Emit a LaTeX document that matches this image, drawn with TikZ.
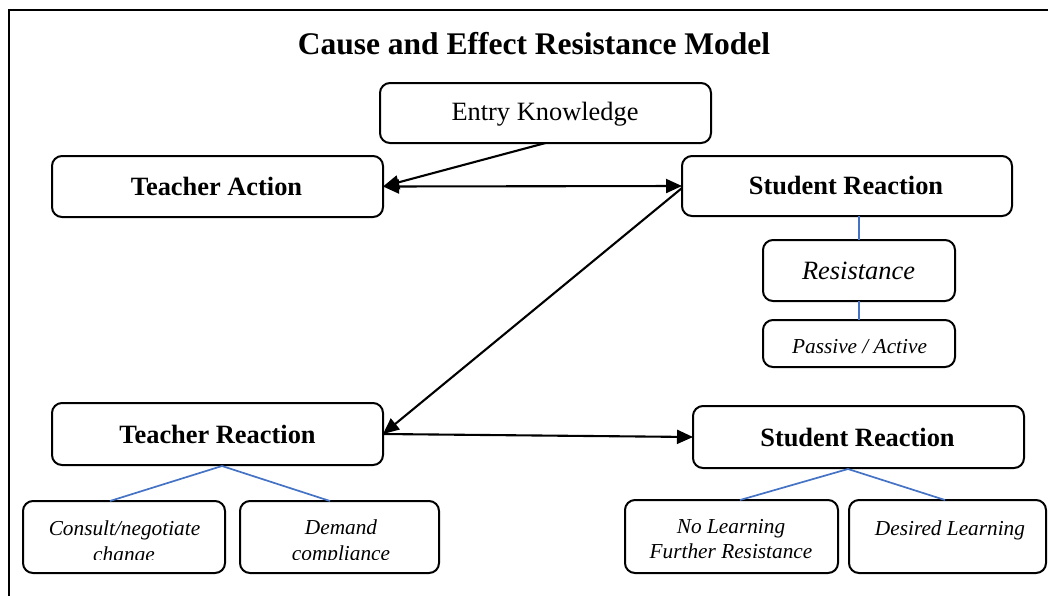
\documentclass[tikz,border=0pt]{standalone}
\usepackage{fontspec}
\setmainfont{Liberation Serif}
\usetikzlibrary{arrows.meta}
\definecolor{linkblue}{RGB}{68,114,196}
\tikzset{
  frame/.style={line width=2.8pt, line cap=rect},
  box/.style={draw, line width=2pt, rounded corners=10pt, inner sep=0pt, outer sep=0pt},
  tip/.style={Triangle[length=16pt,width=14pt]},
  flow/.style={line width=2.1pt, -{Triangle[length=16pt,width=14pt]}},
  twoway/.style={line width=2.1pt, {Triangle[length=16pt,width=14pt]}-{Triangle[length=16pt,width=14pt]}},
  link/.style={draw=linkblue, line width=1.7pt},
  titletext/.style={anchor=base, inner sep=0pt, font=\fontsize{31.5}{36}\selectfont\bfseries},
  headtext/.style={anchor=base, inner sep=0pt, font=\fontsize{26.4}{30}\selectfont\bfseries},
  plaintext/.style={anchor=base, inner sep=0pt, font=\fontsize{26.4}{30}\selectfont},
  ittext/.style={anchor=base, inner sep=0pt, font=\fontsize{26.4}{30}\selectfont\itshape},
  smalltext/.style={anchor=base, inner sep=0pt, font=\fontsize{21.3}{25}\selectfont\itshape},
}
\begin{document}
\begin{tikzpicture}[x=1pt, y=-1pt]
  \useasboundingbox (0,0) rectangle (1048,595);

  % outer frame (open to the right and bottom)
  \draw[frame] (9,620) -- (9,10) -- (1070,10);

  % title
  \node[titletext] (title) at (534,54) {Cause and Effect Resistance Model};

  % boxes
  \node[box, minimum width=331pt, minimum height=60pt] (entry) at (545.5,113) {};
  \node[box, minimum width=331pt, minimum height=61pt] (ta)    at (217.5,186.5) {};
  \node[box, minimum width=330pt, minimum height=60pt] (sr1)   at (847,186) {};
  \node[box, minimum width=192pt, minimum height=61pt] (res)   at (859,270.5) {};
  \node[box, minimum width=192pt, minimum height=47pt] (pa)    at (859,343.5) {};
  \node[box, minimum width=331pt, minimum height=62pt] (tr)    at (217.5,434) {};
  \node[box, minimum width=331pt, minimum height=62pt] (sr2)   at (858.5,437) {};
  \node[box, minimum width=202pt, minimum height=72pt] (cons)  at (124,537) {};
  \node[box, minimum width=199pt, minimum height=72pt] (dem)   at (339.5,537) {};
  \node[box, minimum width=213pt, minimum height=73pt] (nol)   at (731.5,536.5) {};
  \node[box, minimum width=197pt, minimum height=73pt] (des)   at (947.5,536.5) {};

  % box texts
  \node[plaintext] (entry-t) at (545,120) {Entry Knowledge};
  \node[headtext]  (ta-t)    at (216.5,195) {Teacher Action};
  \node[headtext]  (sr1-t)   at (846,194) {Student Reaction};
  \node[ittext]    (res-t)   at (858.5,279) {Resistance};
  \node[smalltext] (pa-t)    at (859.5,353) {Passive / Active};
  \node[headtext]  (tr-t)    at (217.5,443) {Teacher Reaction};
  \node[headtext]  (sr2-t)   at (857.5,446) {Student Reaction};
  \node[smalltext] (nol-t1)  at (731,533) {No Learning};
  \node[smalltext] (nol-t2)  at (731,558) {Further Resistance};
  \node[smalltext] (des-t)   at (950,535) {Desired Learning};
  \begin{scope}
    \clip (20,498) rectangle (445,559);
    \node[smalltext] (cons-t1) at (124.5,535) {Consult/negotiate};
    \node[smalltext] (cons-t2) at (124,561) {change};
    \node[smalltext] (dem-t1)  at (341,534) {Demand};
    \node[smalltext] (dem-t2)  at (341,560) {compliance};
  \end{scope}

  % arrows
  \draw[flow]   (entry.south) -- (ta.east);
  \draw[twoway] (ta.east) -- (sr1.west);
  \draw[flow]   ([yshift=-2pt]sr1.west) -- (tr.east);
  \draw[flow]   (tr.east) -- (sr2.west);

  % branch points of the blue links
  \coordinate (tr-b)   at (222,466);
  \coordinate (cons-b) at (110,501);
  \coordinate (dem-b)  at (330,501);
  \coordinate (sr2-b)  at (848,469);
  \coordinate (nol-b)  at (740,500);
  \coordinate (des-b)  at (945,500);

  % blue links
  \draw[link] (sr1.south -| res.north) -- (res.north);
  \draw[link] (res.south) -- (pa.north);
  \draw[link] (cons-b) -- (tr-b) -- (dem-b);
  \draw[link] (nol-b) -- (sr2-b) -- (des-b);
\end{tikzpicture}
\end{document}
